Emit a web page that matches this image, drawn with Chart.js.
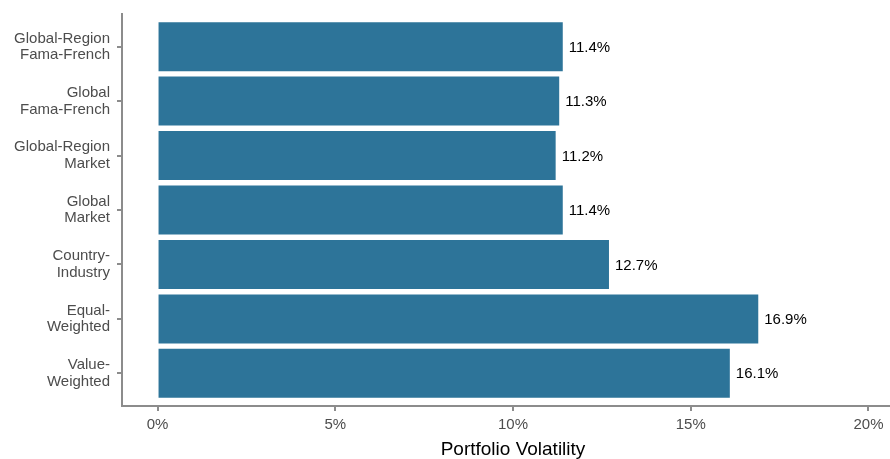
<!DOCTYPE html>
<html>
<head>
<meta charset="utf-8">
<script src="https://cdn.jsdelivr.net/npm/chart.js@4/dist/chart.umd.min.js"></script>
<style>
html,body{margin:0;padding:0;background:#fff;overflow:hidden;width:890px;height:459px;}
#wrap{width:904px;height:459px;}
</style>
</head>
<body>
<div id="wrap"><canvas id="c" width="904" height="459"></canvas></div>
<script>
const categories = [
  ["Global-Region","Fama-French"],
  ["Global","Fama-French"],
  ["Global-Region","Market"],
  ["Global","Market"],
  ["Country-","Industry"],
  ["Equal-","Weighted"],
  ["Value-","Weighted"]
];
const volatility = [11.4, 11.3, 11.2, 11.4, 12.7, 16.9, 16.1];
const xTicks = [0, 5, 10, 15, 20];

const axisGrey = '#8c8c8c';
const labelGrey = '#4d4d4d';
const FONT = "'Liberation Sans', Arial, sans-serif";

const labelPlugin = {
  id: 'barLabels',
  afterDatasetsDraw(chart) {
    const ctx = chart.ctx;
    const meta = chart.getDatasetMeta(0);
    ctx.save();
    ctx.font = '15px ' + FONT;
    ctx.fillStyle = '#000';
    ctx.textAlign = 'left';
    ctx.textBaseline = 'middle';
    meta.data.forEach((el, i) => {
      ctx.fillText(volatility[i].toFixed(1) + '%', el.x + 6, el.y + 1);
    });
    ctx.restore();
  }
};

new Chart(document.getElementById('c'), {
  type: 'bar',
  data: {
    datasets: [{
      data: volatility.map((v, i) => ({x: v, y: i + 1})),
      backgroundColor: '#2D7499',
      borderWidth: 0,
      barPercentage: 0.9,
      categoryPercentage: 1.0
    }]
  },
  options: {
    indexAxis: 'y',
    responsive: false,
    animation: false,
    devicePixelRatio: 1,
    layout: {padding: {top: 14, left: 0, right: 0, bottom: 0}},
    plugins: {legend: {display: false}, tooltip: {enabled: false}},
    scales: {
      y: {
        type: 'linear',
        reverse: true,
        offset: false,
        min: 0.4,
        max: 7.6,
        afterBuildTicks(scale) {
          scale.ticks = categories.map((c, i) => ({value: i + 1}));
        },
        afterFit(scale) {
          scale.width = 122;
          scale.paddingTop = 0;
          scale.paddingBottom = 0;
        },
        border: {display: true, color: axisGrey, width: 2},
        grid: {offset: false, drawOnChartArea: false, drawTicks: true, tickLength: 5, color: axisGrey, lineWidth: 2},
        ticks: {
          padding: 7,
          color: labelGrey,
          font: {family: FONT, size: 15, lineHeight: 1.1},
          callback: (v) => categories[Math.round(v) - 1] || ''
        }
      },
      x: {
        type: 'linear',
        min: -1,
        max: 21,
        afterBuildTicks(scale) {
          scale.ticks = xTicks.map(v => ({value: v}));
        },
        afterFit(scale) {
          scale.height = 53;
          scale.paddingLeft = 0;
          scale.paddingRight = 0;
        },
        border: {display: true, color: axisGrey, width: 2},
        grid: {drawOnChartArea: false, drawTicks: true, tickLength: 5, color: axisGrey, lineWidth: 2},
        ticks: {
          padding: 5,
          color: labelGrey,
          maxRotation: 0,
          font: {family: FONT, size: 15},
          callback: (v) => v + '%'
        },
        title: {
          display: true,
          text: 'Portfolio Volatility',
          color: '#000',
          font: {family: FONT, size: 19, lineHeight: 1},
          padding: {top: 0, bottom: 0}
        }
      }
    }
  },
  plugins: [labelPlugin]
});
</script>
</body>
</html>
